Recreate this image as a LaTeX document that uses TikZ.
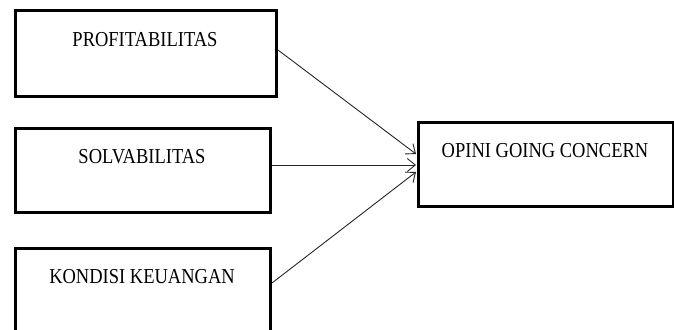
\documentclass[tikz,border=0pt]{standalone}
\usepackage{fontspec}
\setmainfont{Liberation Serif}
\usetikzlibrary{arrows.meta}
\newcommand{\tallt}[1]{\scalebox{1}[1.15]{#1}}
\begin{document}
\begin{tikzpicture}[x=1pt,y=-1pt,
  box/.style={draw=black,line width=3pt,rectangle,inner sep=0pt},
  lbl/.style={inner sep=0pt,font=\fontsize{18.5}{21}\selectfont},
  conn/.style={draw=black!85,line width=0.9pt,-{Straight Barb[length=8pt,width=13pt,line width=0.9pt]}}]
\useasboundingbox (0,0) rectangle (674,329);
\node[box,minimum width=261pt,minimum height=85pt] (b1) at (145.5,53.5) {};
\node[box,minimum width=255pt,minimum height=84pt] (b2) at (142.5,170) {};
\node[box,minimum width=255pt,minimum height=84pt] (b3) at (142.5,290) {};
\node[box,minimum width=255pt,minimum height=84pt] (b4) at (545.5,164) {};
\node[lbl] (t1) at (145,39.5) {\tallt{PROFITABILITAS}};
\node[lbl] (t2) at (142,157) {\tallt{SOLVABILITAS}};
\node[lbl] (t3) at (142,277) {\tallt{KONDISI KEUANGAN}};
\node[lbl] (t4) at (545,151) {\tallt{OPINI GOING CONCERN}};
\coordinate (s1) at (278,50);
\coordinate (s2) at (272,165);
\coordinate (s3) at (272,283);
\coordinate (e1) at (416,154);
\coordinate (e2) at (416,165);
\coordinate (e3) at (416,172);
\draw[conn] (s1) -- (e1);
\draw[conn] (s2) -- (e2);
\draw[conn] (s3) -- (e3);
\end{tikzpicture}
\end{document}
